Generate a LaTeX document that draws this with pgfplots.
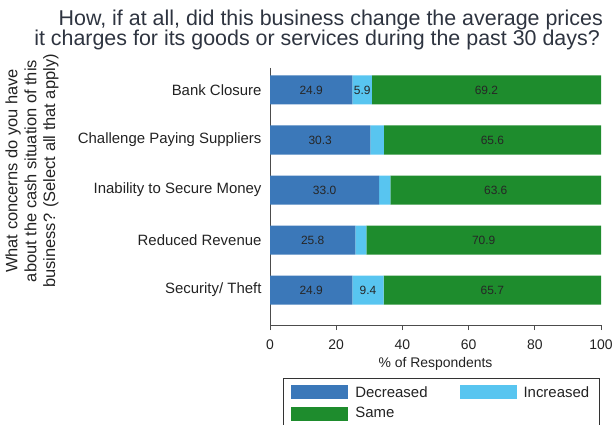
\documentclass[border=0pt]{standalone}
\usepackage{fontspec}
\setmainfont{Liberation Sans}
\usepackage{pgfplots}
\pgfplotsset{compat=1.18}
\definecolor{decr}{HTML}{3B78B9}
\definecolor{incr}{HTML}{58C5F0}
\definecolor{same}{HTML}{1E8C2D}
\definecolor{txt}{HTML}{222222}
\definecolor{ttl}{HTML}{2E3440}
\begin{document}
\begin{tikzpicture}
\useasboundingbox (0,0) rectangle (613bp,425bp);
\pgfplotsset{
  base/.style={at={(270bp,100bp)}, anchor=south west, scale only axis,
    width=331bp, height=257bp, xmin=0, xmax=100, ymin=-0.44, ymax=4.7,
    y dir=reverse},
}
\begin{axis}[base,
  xbar stacked, bar width=29bp,
  axis x line*=bottom, axis y line*=left,
  axis line style={-, black!70, line width=0.8bp},
  xtick={0,20,...,100},
  tick align=outside, major tick length=5bp,
  x tick style={black!70, line width=0.8bp},
  ytick={0,1,2,3,4},
  yticklabels={Bank Closure, Challenge Paying Suppliers, Inability to Secure Money, Reduced Revenue, Security/ Theft},
  ytick style={draw=none},
  y tick label style={font=\fontsize{15}{17}\selectfont, text=txt},
  x tick label style={font=\fontsize{14}{16}\selectfont, text=txt, yshift=-6bp},
  /pgf/number format/assume math mode=true,
  xlabel={\% of Respondents},
  xlabel style={font=\fontsize{14}{16}\selectfont, text=txt, yshift=-1bp},
  legend columns=2,
  legend cell align=left,
  legend image code/.code={\fill[#1] (0bp,-7bp) rectangle (57bp,7bp);},
  legend style={at={(0.0393,-0.206)}, anchor=north west, draw=black!80,
    line width=0.6bp, inner xsep=8bp, inner ysep=6bp,
    font=\fontsize{15}{17}\selectfont, text=txt, row sep=5bp,
    /tikz/every odd column/.append style={column sep=5bp},
    /tikz/every even column/.append style={column sep=30bp}},
]
\addplot[fill=decr, draw=none] coordinates {(24.9,0) (30.3,1) (33.0,2) (25.8,3) (24.9,4)};
\addplot[fill=incr, draw=none] coordinates {(5.9,0) (4.1,1) (3.4,2) (3.3,3) (9.4,4)};
\addplot[fill=same, draw=none] coordinates {(69.2,0) (65.6,1) (63.6,2) (70.9,3) (65.7,4)};
\legend{Decreased, Increased, Same}
\end{axis}
\begin{axis}[base, hide axis,
  point meta=explicit symbolic,
  nodes near coords,
  every node near coord/.style={anchor=center, font=\fontsize{12}{14}\selectfont, text=black!85}]
\addplot[draw=none, mark=none] coordinates {(12.45,0) [24.9] (15.15,1) [30.3] (16.5,2) [33.0] (12.9,3) [25.8] (12.45,4) [24.9]};
\addplot[draw=none, mark=none] coordinates {(27.85,0) [5.9] (29.6,4) [9.4]};
\addplot[draw=none, mark=none] coordinates {(65.4,0) [69.2] (67.2,1) [65.6] (68.2,2) [63.6] (64.55,3) [70.9] (67.15,4) [65.7]};
\end{axis}
\node[anchor=base east, inner sep=0, font=\fontsize{21.5}{24}\selectfont, text=ttl] at (603bp,399bp) {How, if at all, did this business change the average prices};
\node[anchor=base east, inner sep=0, font=\fontsize{21.5}{24}\selectfont, text=ttl] at (600bp,379bp) {it charges for its goods or services during the past 30 days?};
\node[rotate=90, align=center, inner sep=0, font=\fontsize{16.5}{19}\selectfont, text=txt] at (32bp,254bp) {What concerns do you have\\about the cash situation of this\\business? (Select all that apply)};
\end{tikzpicture}
\end{document}
